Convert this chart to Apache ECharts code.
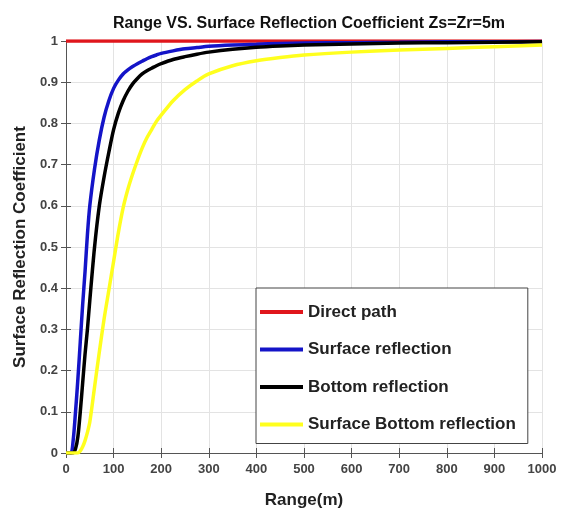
<!DOCTYPE html>
<html>
<head>
<meta charset="utf-8">
<script src="https://cdn.jsdelivr.net/npm/echarts@6/dist/echarts.min.js"></script>
<style>
  html, body { margin: 0; padding: 0; background: #fff; }
  #chart { width: 571px; height: 514px; }
</style>
</head>
<body>
<div id="chart"></div>
<script>
// values
const range = [0, 10, 15, 20, 25, 30, 35, 40, 45, 50,
  60, 70, 80, 90, 100, 110, 120, 130, 140, 150, 160, 170, 180, 190, 200,
  225, 250, 275, 300, 350, 400, 450, 500, 600, 700, 800, 900, 1000];

const direct = range.map(() => 1);
const surface = [0, 0, 0.03, 0.1, 0.18, 0.27, 0.36, 0.44, 0.53, 0.6,
  0.69, 0.76, 0.815, 0.855, 0.885, 0.905, 0.92, 0.93, 0.938, 0.945, 0.951, 0.957, 0.962, 0.966, 0.97,
  0.976, 0.981, 0.984, 0.987, 0.99, 0.992, 0.994, 0.995, 0.996, 0.997, 0.998, 0.998, 0.999];
const bottom = [0, 0, 0, 0.01, 0.04, 0.1, 0.17, 0.24, 0.3, 0.37,
  0.5, 0.6, 0.67, 0.73, 0.785, 0.825, 0.855, 0.878, 0.896, 0.909, 0.92, 0.928, 0.934, 0.94, 0.945,
  0.955, 0.962, 0.968, 0.973, 0.98, 0.985, 0.988, 0.99, 0.993, 0.995, 0.996, 0.997, 0.998];
const surfBottom = [0, 0, 0, 0, 0, 0.005, 0.015, 0.03, 0.05, 0.075,
  0.16, 0.245, 0.325, 0.395, 0.465, 0.535, 0.595, 0.64, 0.677, 0.71, 0.74, 0.765, 0.785, 0.805, 0.82,
  0.855, 0.882, 0.903, 0.92, 0.94, 0.952, 0.96, 0.966, 0.973, 0.978, 0.982, 0.986, 0.99];

const xTicks = [0, 1000, 100];
const yTicks = [0, 1, 0.1];

const pairs = (xs, ys) => xs.map((x, i) => [x, ys[i]]);

const chart = echarts.init(document.getElementById('chart'));

const tickStyle = { inside: true, length: 5, lineStyle: { color: '#555' } };
const gridLine = { show: true, lineStyle: { color: '#e3e3e3', width: 1 } };
const boldLabel = { fontFamily: 'Liberation Sans, Arial, sans-serif', fontWeight: 'bold' };

const option = {
  animation: false,
  backgroundColor: '#fff',
  title: {
    text: 'Range VS. Surface Reflection Coefficient Zs=Zr=5m',
    left: 304,
    textAlign: 'center',
    top: 11,
    textStyle: Object.assign({ fontSize: 16, color: '#111' }, boldLabel)
  },
  grid: { left: 66, right: 29, top: 41, bottom: 56 },
  legend: {
    orient: 'vertical',
    left: 256,
    top: 288,
    padding: [14, 12, 9, 4],
    itemGap: 17.5,
    itemWidth: 43,
    itemHeight: 4,
    icon: 'rect',
    backgroundColor: '#fff',
    borderColor: '#444',
    borderWidth: 1,
    textStyle: Object.assign({ fontSize: 17, color: '#222', lineHeight: 20 }, boldLabel),
    data: ['Direct path', 'Surface reflection', 'Bottom reflection', 'Surface Bottom reflection']
  },
  xAxis: [{
    type: 'value',
    min: xTicks[0], max: xTicks[1], interval: xTicks[2],
    name: 'Range(m)',
    nameLocation: 'middle',
    nameGap: 39,
    nameTextStyle: Object.assign({ fontSize: 17, color: '#222' }, boldLabel),
    axisLine: { show: true, lineStyle: { color: '#555' } },
    axisTick: tickStyle,
    axisLabel: Object.assign({ fontSize: 13, color: '#444', margin: 10, formatter: v => String(v) }, boldLabel),
    splitLine: gridLine
  }, {
    type: 'value', position: 'top',
    min: xTicks[0], max: xTicks[1], interval: xTicks[2],
    axisLine: { show: true, lineStyle: { color: '#555' } },
    axisTick: tickStyle,
    axisLabel: { show: false },
    splitLine: { show: false }
  }],
  yAxis: [{
    type: 'value',
    min: yTicks[0], max: yTicks[1], interval: yTicks[2],
    name: 'Surface Reflection Coefficient',
    nameLocation: 'middle',
    nameGap: 32,
    nameTextStyle: Object.assign({ fontSize: 17, color: '#222' }, boldLabel),
    axisLine: { show: true, lineStyle: { color: '#555' } },
    axisTick: tickStyle,
    axisLabel: Object.assign({ fontSize: 13, color: '#444', margin: 8 }, boldLabel),
    splitLine: gridLine
  }, {
    type: 'value', position: 'right',
    min: yTicks[0], max: yTicks[1], interval: yTicks[2],
    axisLine: { show: true, lineStyle: { color: '#555' } },
    axisTick: tickStyle,
    axisLabel: { show: false },
    splitLine: { show: false }
  }],
  series: [
    { name: 'Direct path', type: 'line', symbol: 'none', color: '#e0161c',
      lineStyle: { width: 3.5 }, data: pairs(range, direct) },
    { name: 'Surface reflection', type: 'line', symbol: 'none', smooth: 0.3, color: '#1414c8',
      lineStyle: { width: 3.5 }, data: pairs(range, surface) },
    { name: 'Bottom reflection', type: 'line', symbol: 'none', smooth: 0.3, color: '#000000',
      lineStyle: { width: 3.5 }, data: pairs(range, bottom) },
    { name: 'Surface Bottom reflection', type: 'line', symbol: 'none', smooth: 0.3, color: '#ffff1e',
      lineStyle: { width: 3.5 }, data: pairs(range, surfBottom) }
  ]
};

chart.setOption(option);
</script>
</body>
</html>
